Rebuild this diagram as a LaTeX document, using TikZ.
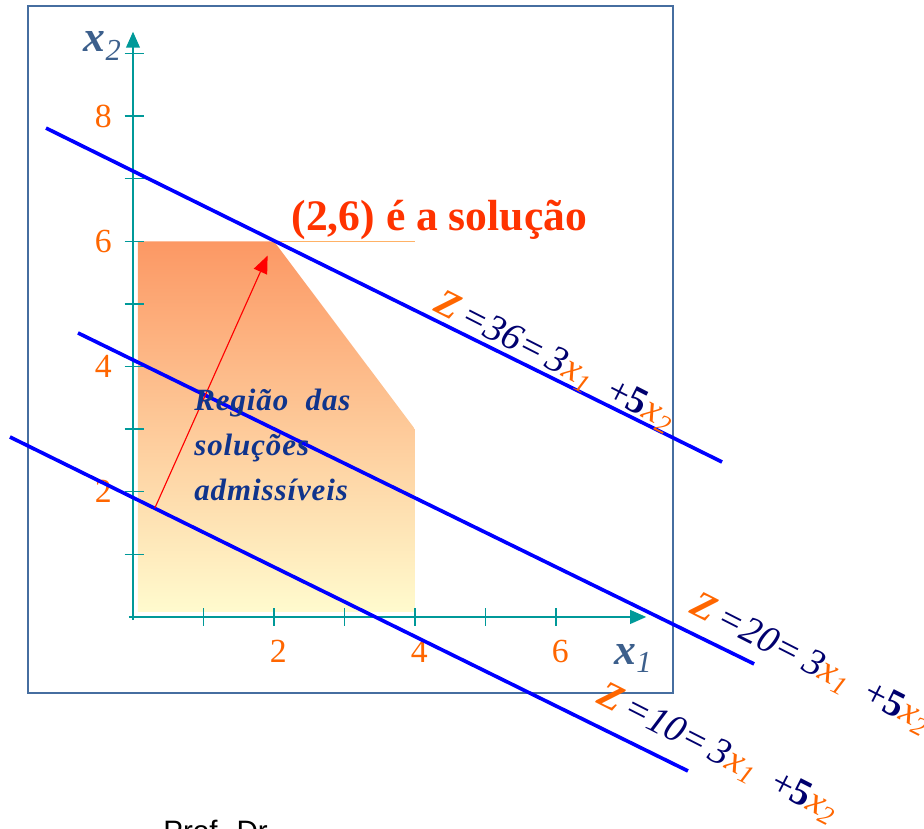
\documentclass[tikz,border=0pt]{standalone}
\usepackage{amsmath}
\usepackage{fontspec}
\setmainfont{Liberation Serif}
\setsansfont{Liberation Sans}
\usepackage{xcolor}
\usepackage{tikz}
\usetikzlibrary{arrows.meta,positioning}
\definecolor{axisteal}{RGB}{0,153,153}
\definecolor{zorange}{RGB}{255,102,0}
\definecolor{znavy}{RGB}{0,0,110}
\definecolor{framesteel}{RGB}{70,110,160}
\definecolor{xsteel}{RGB}{60,95,140}
\definecolor{regnavy}{RGB}{16,52,140}
\definecolor{solred}{RGB}{255,51,0}
\definecolor{regtop}{RGB}{252,152,100}
\definecolor{regbot}{RGB}{255,251,206}
\newcommand{\zlabel}[1]{\textcolor{zorange}{\textbf{\textit{Z}}}\,%
  \textcolor{znavy}{\textit{=#1=\,3}}\textcolor{zorange}{$\textit{x}_{\textit{1}}$}\ \ %
  \textcolor{znavy}{+\textbf{5}}\textcolor{zorange}{$\textit{x}_{\textit{2}}$}}

\begin{document}
\begin{tikzpicture}[x=1.7625cm,y=1.565cm,
    axis/.style={axisteal,line width=1.4pt},
    tickmark/.style={axisteal,line width=1pt},
    zline/.style={blue,line width=2.6pt},
    ticklab/.style={zorange,font=\fontsize{24}{24}\selectfont},
    zlab/.style={rotate=-27,font=\fontsize{27}{27}\selectfont}]
  \useasboundingbox (-1.8865,-3.371) rectangle (11.22,9.856);
  % moldura
  \draw[framesteel,line width=1.2pt] (-1.49,-1.214) rectangle (7.66,9.76);
  % regiao admissivel
  \shade[top color=regtop,bottom color=regbot]
        (0.07,0.08) -- (0.07,6) -- (2,6) -- (4,3) -- (4,0.08) -- cycle;
  \draw[orange!60,line width=0.5pt] (2,6) -- (4,6);
  % eixos
  \draw[axis,-{Triangle[length=4mm,width=3.4mm]}] (-0.06,0) -- (7.28,0);
  \draw[axis,-{Triangle[length=4mm,width=3.4mm]}] (0,-0.05) -- (0,9.35);
  \foreach \x in {1,...,6}
    \draw[tickmark] (\x,-0.14) -- (\x,0.14);
  \foreach \y in {1,...,9}
    \draw[tickmark] (-0.12,\y) -- (0.15,\y);
  \foreach \x in {2,4,6}
    \node[ticklab] (xlab\x) at (\x+0.06,-0.55) {\x};
  \foreach \y in {2,4,6,8}
    \node[ticklab] (ylab\y) at (-0.42,\y) {\y};
  \node[xsteel,font=\fontsize{31}{31}\selectfont] (xone) at (7.1,-0.66)
        {$\textbf{\textit{x}}_{\textit{1}}$};
  \node[xsteel,font=\fontsize{31}{31}\selectfont] (xtwo) at (-0.43,9.12)
        {$\textbf{\textit{x}}_{\textit{2}}$};
  % retas de nivel Z = 3x1 + 5x2
  \draw[zline] (-1.234,7.81) -- (8.355,2.476);
  \draw[zline] (-0.78,4.537) -- (8.81,-0.75);
  \draw[zline] (-1.745,2.875) -- (7.872,-2.46);
  \node[zlab] (zopt) at (5.98,4.08) {\zlabel{36}};
  \node[zlab] (zmid) at (9.62,-0.75) {\zlabel{20}};
  \node[zlab] (zlow) at (8.3,-2.18) {\zlabel{10}};
  % direcao de crescimento
  \coordinate (dirstart) at (0.31,1.74);
  \coordinate (opt) at (2,6);
  \draw[red,line width=0.8pt,-{Triangle[length=4.4mm,width=3.6mm]},shorten >=3.9mm]
        (dirstart) -- (opt);
  \node[regnavy,anchor=north west,align=left,
        font=\fontsize{22}{32}\selectfont\bfseries\itshape\addfontfeature{LetterSpace=3}]
        (regiao) at (0.8,3.72) {Região\ \ das\\soluções\\admissíveis};
  \node[solred,anchor=base west,font=\fontsize{31}{31}\selectfont\bfseries] (sol)
        at (2.18,6.17) {(2,6) é a solução};
  \node[anchor=north west,font=\sffamily\fontsize{21}{21}\selectfont] (autor)
        at (0.36,-3.17) {Prof. Dr.};
\end{tikzpicture}
\end{document}
